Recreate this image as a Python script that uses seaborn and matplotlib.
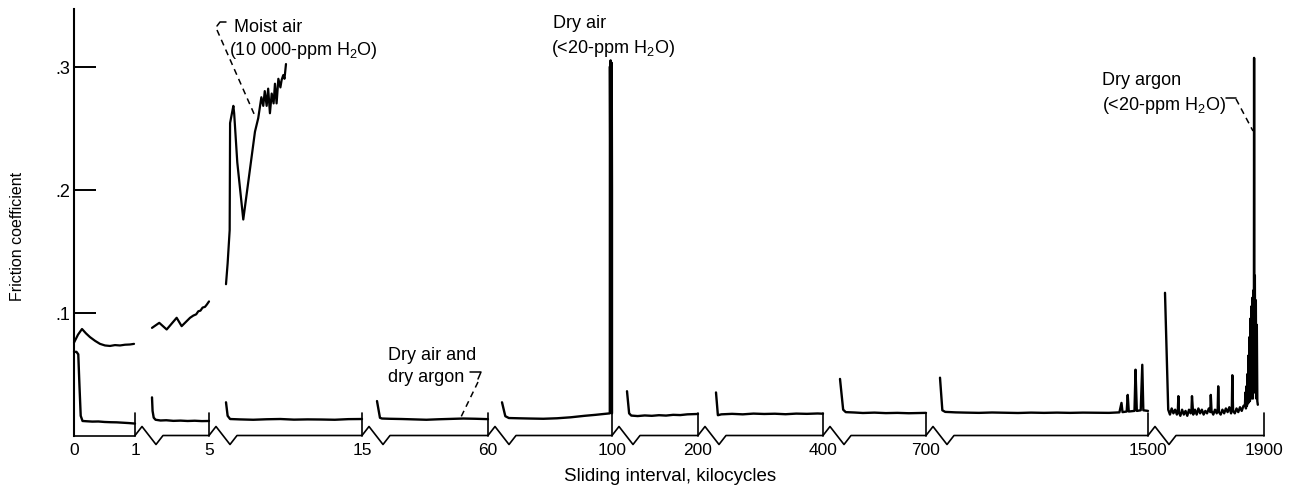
import numpy as np
import pandas as pd
import matplotlib.pyplot as plt
import seaborn as sns
from matplotlib.lines import Line2D

# Broken sliding-interval axis, kilocycles
seg_lo = [0, 1, 5, 15, 60, 100, 200, 400, 700, 1500]
seg_hi = [1, 5, 15, 60, 100, 200, 400, 700, 1500, 1900]
y_ticks = [0.1, 0.2, 0.3]
y_tick_labels = ['.1', '.2', '.3']

# Dry air and dry argon trace: (kilocycles, friction coefficient)
dry_0_1 = [(0, .068), (0.04, .068), (0.07, .066), (0.09, .040), (0.11, .016), (0.14, .0118),
           (0.2, .0116), (0.3, .0113), (0.4, .0114), (0.5, .0110), (0.6, .0108), (0.7, .0107),
           (0.8, .0104), (0.9, .0101), (1.0, .0097)]
dry_1_5 = [(1.0, .031), (1.04, .020), (1.12, .0145), (1.25, .0128), (1.6, .0122), (2.0, .0124),
           (2.5, .0119), (3.0, .0121), (3.5, .0118), (4.0, .0120), (4.5, .0117), (5.0, .0118)]
dry_5_15 = [(5.0, .027), (5.12, .016), (5.3, .0134), (6, .0131), (7, .0128), (8, .0132), (9, .0134),
            (10, .0129), (11, .0131), (12, .0130), (13, .0128), (14, .0133), (15, .0134)]
dry_15_60 = [(15, .028), (16.2, .0144), (17, .0138), (20, .0136), (25, .0134), (30, .0131),
             (35, .0128), (40, .0132), (45, .0135), (50, .0138), (55, .0136), (60, .0133)]
dry_60_100 = [(60, .027), (61.2, .0157), (62.5, .0142), (66, .0140), (70, .0138), (75, .0136),
              (80, .0140), (85, .0148), (90, .0160), (94, .0168), (97, .0175), (99.2, .018),
              (99.25, .30), (99.4, .20), (99.5, .305), (99.6, .21), (99.7, .30), (99.8, .198),
              (99.9, .303), (100, .20), (100, .018)]
dry_100_200 = [(100, .036), (103, .018), (106, .0162), (115, .0158), (125, .0163), (135, .0160),
               (145, .0165), (155, .0162), (165, .0168), (175, .0166), (185, .0172), (195, .0174),
               (200, .0175)]
dry_200_400 = [(200, .035), (203.5, .0165), (210, .0172), (230, .0176), (250, .0172), (270, .0178),
               (290, .0175), (310, .0177), (330, .0173), (350, .0178), (370, .0176), (390, .0179),
               (400, .0177)]
dry_400_700 = [(400, .046), (411, .021), (420, .0190), (450, .0187), (480, .0183), (520, .0186),
               (560, .0182), (600, .0184), (640, .0181), (680, .0183), (700, .0184)]
dry_700_1500 = [(700, .047), (709, .0205), (720, .0192), (760, .0188), (800, .0186), (850, .0184),
                (900, .0187), (950, .0185), (1000, .0183), (1050, .0186), (1100, .0184),
                (1150, .0186), (1200, .0184), (1250, .0186), (1300, .0185), (1350, .0184),
                (1390, .0188), (1398, .0265), (1402, .019), (1418, .0195), (1422, .033),
                (1426, .0195), (1448, .020), (1452, .0535), (1457, .020), (1472, .0205),
                (1478, .0575), (1482, .0205), (1500, .0200)]
dry_1500_1900 = [(1500, .116), (1513, .021), (1520, .017), (1527, .022), (1534, .018), (1541, .021),
                 (1548, .017), (1552, .021), (1554, .032), (1556, .019), (1562, .016), (1569, .021),
                 (1576, .017), (1583, .020), (1590, .016), (1597, .021), (1604, .018), (1607, .021),
                 (1609, .032), (1614, .017), (1621, .021), (1628, .017), (1635, .022), (1642, .018),
                 (1649, .021), (1656, .017), (1663, .020), (1670, .018), (1677, .022), (1683, .019),
                 (1685, .033), (1688, .020), (1695, .017), (1702, .021), (1709, .018), (1713, .022),
                 (1715, .040), (1718, .019), (1725, .017), (1732, .021), (1739, .018), (1746, .022),
                 (1753, .019), (1760, .023), (1767, .018), (1770, .022), (1772, .049), (1775, .020),
                 (1782, .018), (1789, .022), (1796, .019), (1803, .023), (1810, .020), (1817, .024),
                 (1823, .025), (1825, .035), (1827, .022), (1829, .040), (1831, .024), (1833, .050),
                 (1835, .026), (1837, .065), (1839, .027), (1841, .080), (1843, .028), (1845, .095),
                 (1847, .030), (1849, .105), (1851, .032), (1853, .112), (1855, .030), (1857, .118),
                 (1859, .035), (1860, .307), (1861, .040), (1863, .130), (1865, .035), (1867, .110),
                 (1869, .030), (1871, .090), (1873, .028), (1875, .025)]

# Moist air trace (10 000-ppm H2O)
moist_0_1 = [(0, .0755), (0.066, .082), (0.131, .0866), (0.197, .083), (0.262, .080), (0.344, .077),
             (0.426, .0745), (0.508, .0732), (0.59, .0728), (0.672, .0735), (0.754, .0732),
             (0.836, .0738), (0.918, .0740), (0.984, .0745)]
moist_1_5 = [(1.0, .0875), (1.51, .0916), (2.03, .0862), (2.73, .0957), (3.08, .0889), (3.67, .0957),
             (3.9, .0975), (4.1, .0985), (4.25, .101), (4.4, .1015), (4.55, .104), (4.72, .1046),
             (4.85, .1065), (5.0, .109)]
moist_5_15 = [(5.0, .123), (5.12, .140), (5.27, .167), (5.30, .254), (5.54, .268), (5.6, .262),
              (5.83, .222), (6.27, .1756), (7.13, .247), (7.37, .258), (7.6, .275), (7.74, .268),
              (7.85, .280), (7.99, .268), (8.1, .282), (8.23, .262), (8.36, .278), (8.5, .270),
              (8.6, .286), (8.72, .270), (8.85, .290), (9.0, .283), (9.09, .289), (9.21, .293),
              (9.3, .290), (9.41, .302)]

dry_segments = [dry_0_1, dry_1_5, dry_5_15, dry_15_60, dry_60_100, dry_100_200,
                dry_200_400, dry_400_700, dry_700_1500, dry_1500_1900]
moist_segments = [moist_0_1, moist_1_5, moist_5_15]

# Layout in pixels
W, H = 1297, 489
AX_LEFT, AX_RIGHT = 74, 1264
AX_BOTTOM, AX_TOP = 436.5, 10
seg_px = [61, 74, 153, 126, 124, 86, 125, 103, 222, 116]
lead_px = [0, 17, 17, 15, 14, 15, 18, 17, 14, 17]
ymax = (AX_BOTTOM - AX_TOP) / 1230

sns.set_style('white')
plt.rcParams['font.family'] = ['Liberation Sans', 'DejaVu Sans']
plt.rcParams['mathtext.fontset'] = 'custom'
plt.rcParams['mathtext.rm'] = 'Liberation Sans'
plt.rcParams['mathtext.it'] = 'Liberation Sans:italic'
for key in ['text.color', 'axes.labelcolor', 'xtick.color', 'ytick.color']:
    plt.rcParams[key] = 'black'

fig = plt.figure(figsize=(W / 100, H / 100), dpi=100)
gs = fig.add_gridspec(1, len(seg_lo), width_ratios=seg_px, wspace=0,
                      left=AX_LEFT / W, right=AX_RIGHT / W,
                      bottom=1 - AX_BOTTOM / H, top=1 - AX_TOP / H)


def fig_line(xs, ys, **kw):
    kw.setdefault('color', 'black')
    kw.setdefault('lw', 1.2)
    fig.add_artist(Line2D([x / W for x in xs], [1 - y / H for y in ys],
                          transform=fig.transFigure, **kw))


def fig_text(x, y, s, **kw):
    fig.text(x / W, 1 - y / H, s, **kw)


first_ax = None
for i, (lo, hi) in enumerate(zip(seg_lo, seg_hi)):
    ax = fig.add_subplot(gs[0, i], sharey=first_ax)
    per_px = (hi - lo) / (seg_px[i] - lead_px[i])
    ax.set_xlim(lo - lead_px[i] * per_px, hi)
    ax.set_ylim(0, ymax)

    df = pd.DataFrame(dry_segments[i], columns=['kc', 'mu'])
    sns.lineplot(data=df, x='kc', y='mu', ax=ax, color='black', lw=1.7,
                 estimator=None, sort=False, clip_on=False)
    if i < len(moist_segments):
        dm = pd.DataFrame(moist_segments[i], columns=['kc', 'mu'])
        sns.lineplot(data=dm, x='kc', y='mu', ax=ax, color='black', lw=1.6,
                     estimator=None, sort=False, clip_on=False)

    for s in ax.spines.values():
        s.set_visible(False)
    ax.set_xlabel('')
    ax.set_ylabel('')
    ax.patch.set_alpha(0)
    if i == 0:
        ax.set_xticks([lo, hi])
        ax.set_xticklabels([str(lo), str(hi)])
        first_ax = ax
        ax.spines['left'].set_visible(True)
        ax.spines['left'].set_linewidth(1.5)
        ax.spines['left'].set_color('black')
        ax.set_yticks(y_ticks)
        ax.set_yticklabels(y_tick_labels)
        ax.tick_params(axis='y', direction='in', length=15.8, width=1.4, pad=3,
                       labelsize=13, left=True, color='black')
    else:
        ax.set_xticks([hi])
        ax.set_xticklabels([str(hi)])
        ax.tick_params(axis='y', left=False, labelleft=False)
    ax.tick_params(axis='x', length=0, pad=5, labelsize=12.5)

# Broken baseline with zigzag breaks and segment-end ticks
edge = AX_LEFT
for i in range(len(seg_px)):
    right = edge + seg_px[i]
    if i == 0:
        fig_line([edge, right], [AX_BOTTOM, AX_BOTTOM])
    else:
        fig_line([edge, edge + 7, edge + 21, edge + 28, right],
                 [AX_BOTTOM, AX_BOTTOM - 9, AX_BOTTOM + 9, AX_BOTTOM, AX_BOTTOM])
    fig_line([right, right], [AX_BOTTOM, AX_BOTTOM - 23])
    edge = right

# Labels
fig_text(18, 236, 'Friction coefficient', rotation=90, ha='center', va='center', fontsize=11.5)
fig_text(670, 481, 'Sliding interval, kilocycles', ha='center', va='baseline', fontsize=13.5)

h2o = r'H$_\mathrm{2}$O)'
fig_text(234, 32, 'Moist air', fontsize=13, va='baseline')
fig_text(229, 55, '(10 000-ppm ' + h2o, fontsize=13, va='baseline')
fig_text(553, 28, 'Dry air', fontsize=13, va='baseline')
fig_text(551, 53, '(<20-ppm ' + h2o, fontsize=13, va='baseline')
fig_text(388, 360, 'Dry air and', fontsize=13, va='baseline')
fig_text(388, 382, 'dry argon', fontsize=13, va='baseline')
fig_text(1102, 85, 'Dry argon', fontsize=13, va='baseline')
fig_text(1102, 110, '(<20-ppm ' + h2o, fontsize=13, va='baseline')

# Leader lines
dash = (0, (4, 3))
fig_line([217, 220, 226], [27, 23, 23], lw=1.1)
fig_line([217, 255], [31, 117], lw=1.1, ls=dash)
fig_line([470, 481, 478], [373, 373, 380], lw=1.1)
fig_line([478, 461], [383, 418], lw=1.1, ls=dash)
fig_line([1226, 1236], [99, 99], lw=1.1)
fig_line([1236, 1253], [100, 132], lw=1.1, ls=dash)

fig.savefig('out.png', dpi=100)
